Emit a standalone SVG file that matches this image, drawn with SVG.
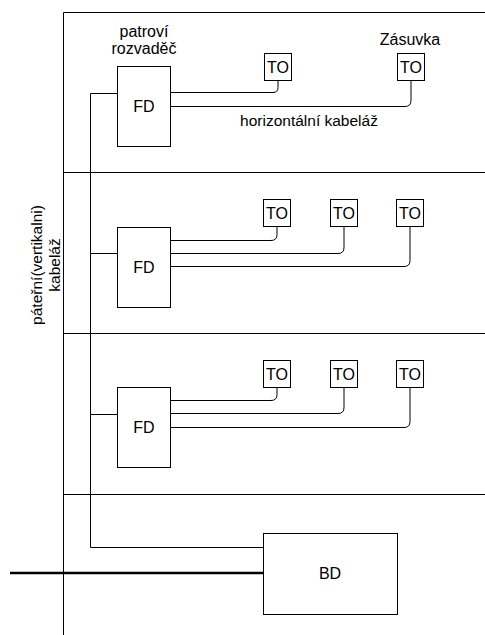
<svg xmlns="http://www.w3.org/2000/svg" width="485" height="635" viewBox="0 0 485 635">
<style>
.ln{fill:none;stroke:#000;stroke-width:1}
.box{fill:#fff;stroke:#000;stroke-width:1}
.t{font-family:"Liberation Sans",Arial,sans-serif;font-size:16px;fill:#000}
.s{font-size:15.5px}
.c{text-anchor:middle}
</style>
<rect width="485" height="635" fill="#fff"/>
<g id="frame">
<path class="ln" d="M63.5,635 V12.5 H485 M63.5,172.5 H485 M63.5,333.5 H485 M63.5,494.5 H485"/>
</g>
<g id="connectors">
<path class="ln" d="M117,93.5 H90.5 V547.5 H263"/>
<path class="ln" d="M90.5,253.5 H117 M90.5,414.5 H117"/>
<path fill="none" stroke="#000" stroke-width="2.5" d="M10,573 H263"/>
<path class="ln" d="M170,92.5 H273 Q278,92.5 278,87.5 V80"/>
<path class="ln" d="M170,106.5 H405 Q411,106.5 411,100.5 V80"/>
<path class="ln" d="M170,240.5 H271 Q277,240.5 277,234.5 V226"/>
<path class="ln" d="M170,253.5 H338 Q344,253.5 344,247.5 V226"/>
<path class="ln" d="M170,266.5 H404 Q410,266.5 410,260.5 V226"/>
<path class="ln" d="M170,400.5 H271 Q277,400.5 277,394.5 V387"/>
<path class="ln" d="M170,413.5 H338 Q344,413.5 344,407.5 V387"/>
<path class="ln" d="M170,427.5 H404 Q410,427.5 410,421.5 V387"/>
</g>
<g id="fd1"><rect class="box" x="117.5" y="66.5" width="53" height="80"/><text class="t c" x="144" y="112">FD</text></g>
<g id="fd2"><rect class="box" x="117.5" y="227.5" width="53" height="80"/><text class="t c" x="144" y="273">FD</text></g>
<g id="fd3"><rect class="box" x="117.5" y="387.5" width="53" height="80"/><text class="t c" x="144" y="433">FD</text></g>
<g id="bd"><rect class="box" x="263.5" y="533.5" width="134" height="81"/><text class="t c" x="330" y="579">BD</text></g>
<g id="to1a"><rect class="box" x="264.5" y="53.5" width="27" height="27"/><text class="t c" x="278" y="73">TO</text></g>
<g id="to1b"><rect class="box" x="397.5" y="53.5" width="27" height="27"/><text class="t c" x="411" y="73">TO</text></g>
<g id="to2a"><rect class="box" x="263.5" y="199.5" width="27" height="27"/><text class="t c" x="277" y="219">TO</text></g>
<g id="to2b"><rect class="box" x="330.5" y="199.5" width="27" height="27"/><text class="t c" x="344" y="219">TO</text></g>
<g id="to2c"><rect class="box" x="396.5" y="199.5" width="27" height="27"/><text class="t c" x="410" y="219">TO</text></g>
<g id="to3a"><rect class="box" x="263.5" y="360.5" width="27" height="27"/><text class="t c" x="277" y="380">TO</text></g>
<g id="to3b"><rect class="box" x="330.5" y="360.5" width="27" height="27"/><text class="t c" x="344" y="380">TO</text></g>
<g id="to3c"><rect class="box" x="396.5" y="360.5" width="27" height="27"/><text class="t c" x="410" y="380">TO</text></g>
<g id="labels">
<text class="t c" x="144" y="37">patroví</text>
<text class="t c" x="144" y="54">rozvaděč</text>
<text class="t c" x="410" y="45">Zásuvka</text>
<text class="t c s" x="309" y="126">horizontální kabeláž</text>
<text class="t c s" transform="translate(42,265) rotate(-90)">páteřní(vertikalni)</text>
<text class="t c s" transform="translate(60,265) rotate(-90)">kabeláž</text>
</g>
</svg>
